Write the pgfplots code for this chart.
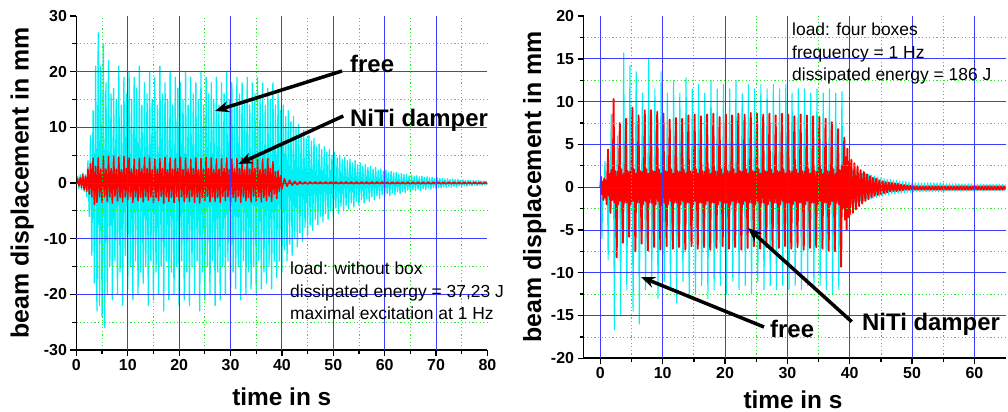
\documentclass[border=0pt]{standalone}
\usepackage{fontspec}
\setmainfont{Liberation Sans}
\usepackage{pgfplots}
\usepackage{pgfplotstable}
\pgfplotsset{compat=1.18}
\usetikzlibrary{arrows.meta}

\definecolor{cyanL}{RGB}{0,240,245}
\definecolor{redL}{RGB}{255,0,0}
\definecolor{gridblue}{RGB}{60,60,255}
\definecolor{gridgreen}{RGB}{40,230,40}

% ---------- left panel: free (cyan), t = 0..80 s, step 0.25 s
\pgfplotstableread[row sep=\\,header=false]{
0\\1.2\\-1\\1.5\\-1.2\\1.8\\-1.5\\1.5\\-2.5\\
4\\-6\\8.5\\-13\\13\\-18\\21\\-23\\27\\-22\\21\\-24\\25\\-26\\18\\-20\\
22\\-15\\16\\-21\\17\\-14\\15\\-20\\21\\-16\\14\\-22\\19\\-13\\16\\-19\\
20\\-15\\15\\-21\\19\\-14\\17\\-20\\21\\-16\\14\\-18\\18\\-15\\16\\-22\\
20\\-14\\15\\-21\\19\\-16\\14\\-20\\21\\-15\\16\\-23\\18\\-14\\15\\-21\\
20\\-16\\14\\-20\\19\\-15\\17\\-22\\18\\-14\\15\\-21\\20\\-16\\14\\-22\\
19\\-15\\16\\-20\\18\\-14\\15\\-23\\20\\-16\\14\\-21\\19\\-15\\16\\-20\\
18\\-14\\15\\-22\\19\\-16\\14\\-21\\18\\-15\\16\\-20\\20\\-14\\15\\-21\\
18\\-16\\14\\-19\\19\\-15\\16\\-21\\18\\-14\\15\\-20\\19\\-16\\14\\-19\\
18\\-15\\16\\-20\\19\\-14\\15\\-19\\18\\-16\\14\\-18\\17\\-15\\15\\-19\\
18\\-14\\14\\-17\\16\\-14\\13\\-16\\
14\\-12\\12\\-14\\13\\-11\\11\\-13\\12\\-10\\10\\-11.5\\10.5\\-9\\9\\-10.5\\
9.5\\-8\\8\\-9.5\\8.5\\-7.5\\7.5\\-8.5\\8\\-6.5\\6.5\\-7.5\\7\\-6\\6\\-7\\
6.5\\-5.5\\5.5\\-6.5\\6\\-5\\5\\-6\\5.5\\-4.5\\4.5\\-5.5\\5\\-4.2\\4.2\\-5\\
4.6\\-4\\4\\-4.6\\4.3\\-3.6\\3.6\\-4.3\\4\\-3.3\\3.3\\-4\\3.6\\-3\\3\\-3.6\\
3.3\\-2.8\\2.8\\-3.3\\3\\-2.5\\2.5\\-3\\2.8\\-2.3\\2.3\\-2.8\\2.5\\-2.1\\2.1\\-2.5\\
2.3\\-1.9\\1.9\\-2.3\\2.1\\-1.8\\1.8\\-2.1\\1.9\\-1.6\\1.6\\-1.9\\1.7\\-1.5\\1.5\\-1.7\\
1.6\\-1.3\\1.3\\-1.6\\1.4\\-1.2\\1.2\\-1.4\\1.3\\-1.1\\1.1\\-1.3\\1.2\\-1\\1\\-1.2\\
1.1\\-0.9\\0.9\\-1.1\\1\\-0.8\\0.8\\-1\\0.9\\-0.8\\0.8\\-0.9\\0.8\\-0.7\\0.7\\-0.8\\
0.75\\-0.6\\0.6\\-0.75\\0.7\\-0.6\\0.6\\-0.7\\0.6\\-0.5\\0.5\\-0.6\\0.55\\-0.5\\0.5\\-0.55\\
0.5\\-0.4\\0.4\\-0.5\\0.45\\-0.4\\0.4\\-0.45\\0.4\\-0.35\\0.35\\-0.4\\0.35\\-0.3\\0.3\\-0.35\\
}\Lcyan

% ---------- left panel: NiTi damper (red), t = 0..40 s, step 0.25 s
\pgfplotstableread[row sep=\\,header=false]{
0\\0.8\\-0.5\\1\\-0.8\\1.5\\-1.2\\1.2\\-1.5\\
2.5\\-2\\3.5\\-2.5\\4.5\\-3.8\\3\\-3.5\\4.5\\-2.5\\2.5\\-3.5\\4.8\\-2.5\\2.5\\-3.3\\
4.8\\-2.5\\2.6\\-3.6\\4.9\\-2.4\\2.5\\-3.2\\4.7\\-2.6\\2.4\\-3.4\\4.8\\-2.5\\2.6\\-3\\
4.5\\-2.4\\2.5\\-3.5\\4.3\\-2.5\\2.4\\-3.2\\4.4\\-2.6\\2.5\\-3.4\\4.6\\-2.4\\2.6\\-3.1\\
4.5\\-2.5\\2.4\\-3.5\\4.3\\-2.6\\2.5\\-3.2\\4.4\\-2.4\\2.6\\-3.6\\4.6\\-2.5\\2.4\\-3.3\\
4.5\\-2.6\\2.5\\-3.5\\4.4\\-2.4\\2.6\\-3.2\\4.6\\-2.5\\2.4\\-3.4\\4.5\\-2.6\\2.5\\-3.3\\
4.3\\-2.4\\2.6\\-3.5\\4.5\\-2.5\\2.4\\-3.6\\4.4\\-2.6\\2.5\\-3.2\\4.6\\-2.4\\2.6\\-3.4\\
4.5\\-2.5\\2.4\\-3.3\\4.3\\-2.6\\2.5\\-3.5\\4.4\\-2.4\\2.6\\-3.2\\4.5\\-2.5\\2.4\\-3.4\\
4.3\\-2.6\\2.5\\-3.3\\4.4\\-2.4\\2.6\\-3.5\\4.5\\-2.5\\2.4\\-3.2\\4.3\\-2.6\\2.5\\-3.4\\
4.4\\-2.4\\2.6\\-3.3\\4.2\\-2.5\\2.4\\-3.4\\4.3\\-2.6\\2.5\\-3.2\\4.4\\-2.4\\2.6\\-3.3\\
3.8\\-2\\2\\-2.8\\2.2\\-1.5\\1.3\\-1.1\\
}\LredA

% ---------- left panel: NiTi damper (red), t = 40..80 s, step 0.5 s
\pgfplotstableread[row sep=\\,header=false]{
-1.1\\0.8\\-0.6\\0.5\\-0.4\\0.3\\-0.3\\0.25\\-0.2\\0.2\\-0.2\\
0.2\\-0.15\\0.2\\-0.15\\0.2\\-0.15\\0.2\\-0.15\\0.2\\-0.15\\0.2\\-0.15\\0.2\\-0.15\\0.2\\-0.15\\
0.2\\-0.15\\0.2\\-0.15\\0.2\\-0.15\\0.2\\-0.15\\0.2\\-0.15\\0.2\\-0.15\\0.2\\-0.15\\
0.15\\-0.15\\0.15\\-0.15\\0.15\\-0.15\\0.15\\-0.15\\0.15\\-0.15\\0.15\\-0.15\\0.15\\-0.15\\0.15\\-0.15\\0.15\\-0.15\\0.15\\-0.15\\
0.15\\-0.15\\0.15\\-0.15\\0.15\\-0.15\\0.15\\-0.15\\0.15\\-0.15\\0.15\\-0.15\\0.15\\-0.15\\0.15\\-0.15\\0.15\\-0.15\\0.15\\-0.15\\
}\LredB

% ---------- right panel: free (cyan), t = 0..40 s, step 0.125 s
\pgfplotstableread[row sep=\\,header=false]{
0\\1\\-6\\-1\\0.5\\1\\3\\-1\\0.5\\
1\\-8.5\\-1\\0.5\\1\\8.5\\-1\\0.5\\
1\\-16.7\\-1\\0.5\\1\\6\\-1\\0.5\\
1\\-15\\-1\\0.5\\1\\15.7\\-1\\0.5\\
1\\-12\\-1\\0.5\\1\\14.2\\-1\\0.5\\
1\\-14.5\\-1\\0.5\\1\\13.5\\-1\\0.5\\
1\\-16\\-1\\0.5\\1\\11\\-1\\0.5\\
1\\-12\\-1\\0.5\\1\\15\\-1\\0.5\\
1\\-10.5\\-1\\0.5\\1\\11.5\\-1\\0.5\\
1\\-13\\-1\\0.5\\1\\13.5\\-1\\0.5\\
1\\-11\\-1\\0.5\\1\\11\\-1\\0.5\\
1\\-12\\-1\\0.5\\1\\12.5\\-1\\0.5\\
1\\-13.5\\-1\\0.5\\1\\11\\-1\\0.5\\
1\\-11\\-1\\0.5\\1\\12.8\\-1\\0.5\\
1\\-13\\-1\\0.5\\1\\11.5\\-1\\0.5\\
1\\-12.5\\-1\\0.5\\1\\12\\-1\\0.5\\
1\\-11.5\\-1\\0.5\\1\\11\\-1\\0.5\\
1\\-13\\-1\\0.5\\1\\12.5\\-1\\0.5\\
1\\-12\\-1\\0.5\\1\\11.5\\-1\\0.5\\
1\\-11.5\\-1\\0.5\\1\\12\\-1\\0.5\\
1\\-12.5\\-1\\0.5\\1\\11.5\\-1\\0.5\\
1\\-11\\-1\\0.5\\1\\12.5\\-1\\0.5\\
1\\-12\\-1\\0.5\\1\\11\\-1\\0.5\\
1\\-11.5\\-1\\0.5\\1\\12\\-1\\0.5\\
1\\-12.5\\-1\\0.5\\1\\11.5\\-1\\0.5\\
1\\-11\\-1\\0.5\\1\\12\\-1\\0.5\\
1\\-12\\-1\\0.5\\1\\11.5\\-1\\0.5\\
1\\-11.5\\-1\\0.5\\1\\12\\-1\\0.5\\
1\\-12\\-1\\0.5\\1\\11.5\\-1\\0.5\\
1\\-11.5\\-1\\0.5\\1\\12\\-1\\0.5\\
1\\-12\\-1\\0.5\\1\\11\\-1\\0.5\\
1\\-11.5\\-1\\0.5\\1\\11.5\\-1\\0.5\\
1\\-12\\-1\\0.5\\1\\11.5\\-1\\0.5\\
1\\-11.5\\-1\\0.5\\1\\11\\-1\\0.5\\
1\\-12\\-1\\0.5\\1\\11.5\\-1\\0.5\\
1\\-11.5\\-1\\0.5\\1\\11\\-1\\0.5\\
1\\-12\\-1\\0.5\\1\\11.5\\-1\\0.5\\
1\\-12.5\\-1\\0.5\\1\\11\\-1\\0.5\\
1\\-12\\-1\\0.5\\1\\11.2\\-1\\0.5\\
1\\-2.5\\-1.5\\2\\1.5\\3\\-2\\1.8\\
}\RcyanA

% ---------- right panel: free (cyan), t = 40..65 s, step 0.25 s
\pgfplotstableread[row sep=\\,header=false]{
1.8\\
-2\\2\\-1.8\\1.8\\-1.8\\1.8\\-1.6\\1.6\\-1.6\\1.6\\-1.5\\1.5\\-1.4\\1.4\\-1.3\\1.3\\
-1.2\\1.2\\-1.1\\1.1\\-1\\1\\-0.9\\0.9\\-0.9\\0.9\\-0.8\\0.8\\-0.8\\0.8\\-0.7\\0.7\\
-0.7\\0.7\\-0.65\\0.65\\-0.6\\0.6\\-0.6\\0.55\\
-0.55\\0.5\\-0.5\\0.5\\-0.55\\0.5\\-0.5\\0.5\\-0.55\\0.5\\-0.5\\0.5\\-0.55\\0.5\\-0.5\\0.5\\-0.55\\0.5\\-0.5\\0.5\\
-0.45\\0.4\\-0.45\\0.4\\-0.45\\0.4\\-0.45\\0.4\\-0.45\\0.4\\-0.45\\0.4\\-0.45\\0.4\\-0.45\\0.4\\-0.45\\0.4\\-0.45\\0.4\\
-0.4\\0.35\\-0.4\\0.35\\-0.4\\0.35\\-0.4\\0.35\\-0.4\\0.35\\-0.4\\0.35\\-0.4\\0.35\\-0.4\\0.35\\-0.4\\0.35\\-0.4\\0.35\\
}\RcyanB

% ---------- right panel: NiTi damper (red), t = 0..40 s, step 0.125 s
\pgfplotstableread[row sep=\\,header=false]{
0\\1.2\\-0.8\\0.6\\-1.5\\1\\-1.2\\0.8\\-2\\
1.5\\4.4\\-1\\1.5\\-3\\2\\-1.5\\1\\
10.3\\-1.8\\1.9\\-1.2\\-8.2\\1.8\\-2\\1.4\\
7.5\\-1.6\\2.1\\-1\\-6.5\\1.6\\-1.8\\1.2\\
8.0\\-1.8\\1.9\\-1.2\\-5.8\\1.8\\-2\\1.4\\
9.3\\-1.6\\2.1\\-1\\-7.5\\1.6\\-1.8\\1.2\\
8.4\\-1.8\\1.9\\-1.2\\-6.6\\1.8\\-2\\1.4\\
9.0\\-1.6\\2.1\\-1\\-7.4\\1.6\\-1.8\\1.2\\
9.0\\-1.8\\1.9\\-1.2\\-7.0\\1.8\\-2\\1.4\\
8.8\\-1.6\\2.1\\-1\\-7.3\\1.6\\-1.8\\1.2\\
8.6\\-1.8\\1.9\\-1.2\\-6.9\\1.8\\-2\\1.4\\
7.9\\-1.6\\2.1\\-1\\-7.2\\1.6\\-1.8\\1.2\\
8.1\\-1.8\\1.9\\-1.2\\-7.0\\1.8\\-2\\1.4\\
8.0\\-1.6\\2.1\\-1\\-7.3\\1.6\\-1.8\\1.2\\
8.4\\-1.8\\1.9\\-1.2\\-6.9\\1.8\\-2\\1.4\\
8.5\\-1.6\\2.1\\-1\\-7.2\\1.6\\-1.8\\1.2\\
8.3\\-1.8\\1.9\\-1.2\\-7.0\\1.8\\-2\\1.4\\
8.5\\-1.6\\2.1\\-1\\-7.3\\1.6\\-1.8\\1.2\\
8.6\\-1.8\\1.9\\-1.2\\-7.1\\1.8\\-2\\1.4\\
8.2\\-1.6\\2.1\\-1\\-6.9\\1.6\\-1.8\\1.2\\
8.5\\-1.8\\1.9\\-1.2\\-7.2\\1.8\\-2\\1.4\\
8.4\\-1.6\\2.1\\-1\\-7.0\\1.6\\-1.8\\1.2\\
8.6\\-1.8\\1.9\\-1.2\\-7.3\\1.8\\-2\\1.4\\
8.5\\-1.6\\2.1\\-1\\-7.1\\1.6\\-1.8\\1.2\\
8.7\\-1.8\\1.9\\-1.2\\-6.9\\1.8\\-2\\1.4\\
8.6\\-1.6\\2.1\\-1\\-7.2\\1.6\\-1.8\\1.2\\
8.5\\-1.8\\1.9\\-1.2\\-7.0\\1.8\\-2\\1.4\\
8.6\\-1.6\\2.1\\-1\\-7.3\\1.6\\-1.8\\1.2\\
8.4\\-1.8\\1.9\\-1.2\\-7.1\\1.8\\-2\\1.4\\
8.6\\-1.6\\2.1\\-1\\-6.9\\1.6\\-1.8\\1.2\\
8.5\\-1.8\\1.9\\-1.2\\-7.2\\1.8\\-2\\1.4\\
8.3\\-1.6\\2.1\\-1\\-7.0\\1.6\\-1.8\\1.2\\
8.5\\-1.8\\1.9\\-1.2\\-7.3\\1.8\\-2\\1.4\\
8.4\\-1.6\\2.1\\-1\\-7.1\\1.6\\-1.8\\1.2\\
8.3\\-1.8\\1.9\\-1.2\\-7.0\\1.8\\-2\\1.4\\
8.2\\-1.6\\2.1\\-1\\-7.2\\1.6\\-1.8\\1.2\\
8.0\\-1.8\\1.9\\-1.2\\-7.4\\1.8\\-2\\1.4\\
7.6\\-1.6\\2.1\\-1\\-7.5\\1.6\\-1.8\\1.2\\
6.8\\-2\\2\\-1.5\\-9.3\\2.5\\-2.5\\2\\
5.8\\-3.8\\3.5\\-5\\4.5\\-3.5\\3\\-3.2\\
}\RredA

% ---------- right panel: NiTi damper (red), t = 40..65 s, step 0.25 s
\pgfplotstableread[row sep=\\,header=false]{
-3.2\\
3.2\\-3\\2.8\\-2.6\\2.4\\-2.2\\2\\-1.9\\1.8\\-1.6\\1.5\\-1.4\\1.3\\-1.2\\1.1\\-1\\
1\\-0.9\\0.8\\-0.8\\0.7\\-0.7\\0.6\\-0.6\\0.55\\-0.5\\0.5\\-0.45\\0.45\\-0.45\\0.4\\-0.4\\
0.3\\-0.35\\0.25\\-0.3\\0.2\\-0.3\\0.15\\-0.3\\
0.1\\-0.3\\0.1\\-0.3\\0.1\\-0.3\\0.1\\-0.3\\0.1\\-0.3\\0.1\\-0.3\\0.1\\-0.3\\0.1\\-0.3\\0.1\\-0.3\\0.1\\-0.3\\
0.1\\-0.3\\0.1\\-0.3\\0.1\\-0.3\\0.1\\-0.3\\0.1\\-0.3\\0.1\\-0.3\\0.1\\-0.3\\0.1\\-0.3\\0.1\\-0.3\\0.1\\-0.3\\
0.1\\-0.3\\0.1\\-0.3\\0.1\\-0.3\\0.1\\-0.3\\0.1\\-0.3\\0.1\\-0.3\\0.1\\-0.3\\0.1\\-0.3\\0.1\\-0.3\\0.1\\-0.3\\
}\RredB

\pgfplotsset{
  panel/.style={
    scale only axis,
    axis lines=left,
    axis line style={-, line width=1.6bp, black},
    axis on top,
    tick align=outside,
    major tick length=6bp,
    minor tick length=4bp,
    every tick/.append style={black, line width=1.3bp},
    tick label style={font=\bfseries\fontsize{16}{18}\selectfont},
    /pgf/number format/assume math mode=true,
    grid=minor,
    minor grid style={gridgreen, dash pattern=on 1.2bp off 2.4bp, line width=0.8bp},
    major grid style={gridblue, line width=0.9bp},
    extra tick style={grid=major},
    extra x tick labels={},
    extra y tick labels={},
  },
}

\begin{document}
\begin{tikzpicture}
\useasboundingbox (0bp,0bp) rectangle (1008bp,412bp);

% ===== left panel
\begin{axis}[panel, at={(76.4bp,62bp)}, anchor=south west,
  width=411bp, height=334bp,
  xmin=0, xmax=80, ymin=-30, ymax=30,
  xtick={0,10,...,80}, minor xtick={5,15,...,75},
  ytick={-30,-20,...,30}, minor ytick={-25,-15,...,25},
  extra x ticks={10,20,...,70}, extra y ticks={-20,-10,...,20}]
\addplot[cyanL, line width=1.3bp, line join=round] table[x expr=\coordindex*0.25, y index=0] {\Lcyan};
\addplot[redL, line width=1.5bp, line join=round] table[x expr=\coordindex*0.25, y index=0] {\LredA};
\addplot[redL, line width=1.5bp, line join=round] table[x expr=40+\coordindex*0.5, y index=0] {\LredB};
\end{axis}

% ===== right panel
\begin{axis}[panel, at={(583.5bp,53.7bp)}, anchor=south west,
  width=422.1bp, height=342.2bp,
  xmin=-2.7, xmax=65, ymin=-20, ymax=20,
  xtick={0,10,...,60}, minor xtick={5,15,...,55},
  ytick={-20,-15,...,20}, minor ytick={-17.5,-12.5,...,17.5},
  extra x ticks={0,10,...,60}, extra y ticks={-15,-10,...,15}]
\addplot[cyanL, line width=1.1bp, line join=round] table[x expr=\coordindex*0.125, y index=0] {\RcyanA};
\addplot[cyanL, line width=1.1bp, line join=round] table[x expr=40+\coordindex*0.25, y index=0] {\RcyanB};
\addplot[redL, line width=1.9bp, line join=round] table[x expr=\coordindex*0.125, y index=0] {\RredA};
\addplot[redL, line width=1.9bp, line join=round] table[x expr=40+\coordindex*0.25, y index=0] {\RredB};
\end{axis}

% ===== axis titles
\node[rotate=90, anchor=base, font=\bfseries\fontsize{25}{28}\selectfont] at (28.5bp,229bp) {beam displacement in mm};
\node[anchor=base, font=\bfseries\fontsize{24.5}{28}\selectfont] at (281.8bp,7bp) {time in s};
\node[rotate=90, anchor=base, font=\bfseries\fontsize{25}{28}\selectfont] at (541bp,225bp) {beam displacement in mm};
\node[anchor=base, font=\bfseries\fontsize{24.5}{28}\selectfont] at (793bp,4bp) {time in s};

% ===== annotations
\begin{scope}[font=\fontsize{17.5}{20}\selectfont]
\node[anchor=base west, inner sep=0] at (290bp,137bp) {load: without box};
\node[anchor=base west, inner sep=0] at (290bp,114.5bp) {dissipated energy = 37,23 J};
\node[anchor=base west, inner sep=0] at (290bp,92bp) {maximal excitation at 1 Hz};
\node[anchor=base west, inner sep=0] at (792bp,376bp) {load: four boxes};
\node[anchor=base west, inner sep=0] at (792bp,353.5bp) {frequency = 1 Hz};
\node[anchor=base west, inner sep=0] at (792bp,331bp) {dissipated energy = 186 J};
\end{scope}

\begin{scope}[font=\bfseries\fontsize{24}{28}\selectfont]
\node[anchor=base west, inner sep=0] at (350bp,339bp) {free};
\node[anchor=base west, inner sep=0] at (350bp,285bp) {NiTi damper};
\node[anchor=base west, inner sep=0] at (770bp,74bp) {free};
\node[anchor=base west, inner sep=0] at (862bp,81bp) {NiTi damper};
\end{scope}

\begin{scope}[line width=3.5bp, -{Stealth[length=14bp,width=11bp]}]
\draw (342bp,341bp) -- (215bp,301bp);
\draw (343.3bp,296bp) -- (238.3bp,248bp);
\draw (764bp,85bp) -- (641bp,135bp);
\draw (851.7bp,90.3bp) -- (748bp,184bp);
\end{scope}
\end{tikzpicture}
\end{document}
